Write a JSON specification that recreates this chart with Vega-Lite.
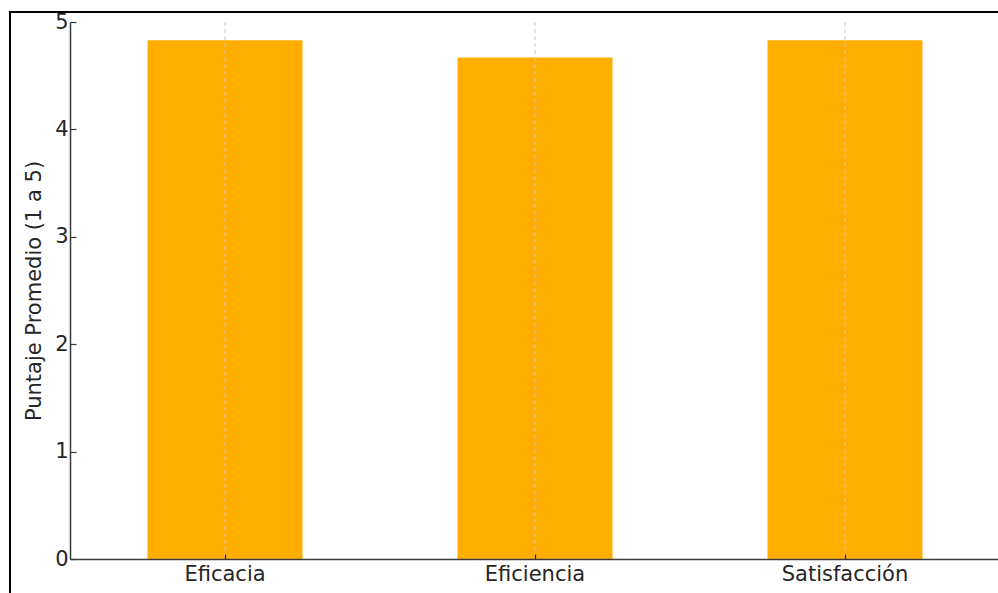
{
  "$schema": "https://vega.github.io/schema/vega-lite/v6.json",
  "autosize": "none",
  "padding": {"left": 10, "top": 12, "right": 0, "bottom": 0},
  "width": 1000,
  "height": 600,
  "background": "white",
  "config": {
    "view": {"stroke": "black", "strokeWidth": 2},
    "font": "DejaVu Sans"
  },
  "data": {
    "values": [
      {"dimension": "Eficacia", "puntaje": 4.83},
      {"dimension": "Eficiencia", "puntaje": 4.67},
      {"dimension": "Satisfacción", "puntaje": 4.83}
    ]
  },
  "encoding": {
    "x": {
      "field": "dimension",
      "type": "nominal",
      "sort": null,
      "scale": {"range": [60, 990], "paddingInner": 0.5, "paddingOuter": 0.25},
      "axis": {
        "title": null,
        "offset": -53,
        "labelAngle": 0,
        "labelFontSize": 21,
        "labelColor": "#262626",
        "labelPadding": 9,
        "domainColor": "#3a3a3a",
        "domainWidth": 1.5,
        "tickColor": "#262626",
        "tickSize": -5,
        "tickWidth": 1.2,
        "grid": false,
        "zindex": 1
      }
    }
  },
  "layer": [
    {
      "mark": {"type": "bar", "color": "#FFAE00"},
      "encoding": {
        "y": {
          "field": "puntaje",
          "type": "quantitative",
          "scale": {"domain": [0, 5], "range": [547, 10], "nice": false},
          "axis": {
            "title": "Puntaje Promedio (1 a 5)",
            "titleFontSize": 21,
            "titleFontWeight": "normal",
            "titleColor": "#262626",
            "titlePadding": 10,
            "offset": -60,
            "values": [0, 1, 2, 3, 4, 5],
            "format": "d",
            "labelFontSize": 21,
            "labelColor": "#262626",
            "labelPadding": 8,
            "domainColor": "#3a3a3a",
            "domainWidth": 1.5,
            "tickColor": "#3a3a3a",
            "tickSize": -6,
            "tickWidth": 1.2,
            "grid": false
          }
        }
      }
    },
    {
      "mark": {"type": "rule", "color": "#c8c8c8", "strokeDash": [4, 3], "strokeWidth": 1},
      "encoding": {
        "y": {"datum": 5, "type": "quantitative"},
        "y2": {"datum": 0}
      }
    }
  ]
}
